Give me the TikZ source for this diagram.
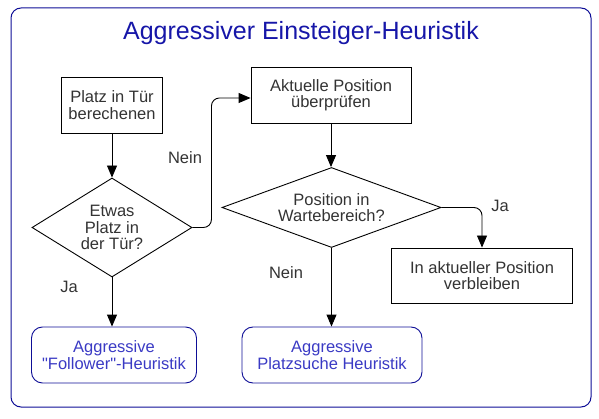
\documentclass[tikz,border=0pt]{standalone}
\usepackage{fontspec}
\setmainfont{Liberation Sans}[Ligatures=TeXOff]
\usetikzlibrary{shapes.geometric,arrows.meta}
\definecolor{frameblue}{HTML}{0E0E96}
\definecolor{titleblue}{HTML}{1616A8}
\definecolor{boxblue}{HTML}{3A3AC4}
\definecolor{txt}{HTML}{333333}
\tikzset{
  base/.style={font=\fontsize{16.5}{16.5}\selectfont, text=txt, align=center},
  procbox/.style={base, draw=black, line width=0.9pt, inner sep=0pt},
  endbox/.style={base, draw=frameblue, line width=0.9pt, rounded corners=11pt, inner sep=0pt, text=boxblue},
  decide/.style={base, draw=black, line width=0.9pt, diamond, inner sep=0pt},
  conn/.style={draw=black, line width=0.9pt, -{Triangle[length=12pt,width=10pt]}},
  lbl/.style={base},
}
\begin{document}
\begin{tikzpicture}[x=1pt,y=-1pt]
\useasboundingbox (0,0) rectangle (599,419);
\node[draw=frameblue, line width=1pt, rounded corners=10pt, minimum width=580pt, minimum height=399pt, inner sep=0pt] (frame) at (301,207.5) {};
\node[font=\fontsize{25}{27}\selectfont, text=titleblue] (title) at (301,33) {Aggressiver Einsteiger-Heuristik};

\node[procbox, minimum width=101pt, minimum height=56pt] (b1) at (112,105) {Platz in Tür\\berechenen};
\node[decide, minimum width=160pt, minimum height=99pt, aspect=1.6] (d1) at (112,227.5) {Etwas\\Platz in\\der Tür?};
\node[procbox, minimum width=160pt, minimum height=56pt] (b2) at (331,95) {Aktuelle Position\\überprüfen};
\node[decide, minimum width=219pt, minimum height=80pt, aspect=2.74] (d2) at (331.5,207.5) {Position in\\Wartebereich?};
\node[procbox, minimum width=181pt, minimum height=55pt] (b3) at (482,275.5) {In aktueller Position\\verbleiben};
\node[endbox, minimum width=165pt, minimum height=56pt] (b5) at (114,355) {Aggressive\\"Follower"-Heuristik};
\node[endbox, minimum width=180pt, minimum height=56pt] (b4) at (332,355) {Aggressive\\Platzsuche Heuristik};

\draw[conn] (b1.south) -- (d1.north);
\draw[conn] (d1.south) -- (d1.south |- b5.north);
\draw[conn, rounded corners=8pt] (d1.east) -- ++(19,0) |- ([yshift=-3pt]b2.west);
\draw[conn] (b2.south) -- (b2.south |- d2.north);
\draw[conn, rounded corners=8pt] (d2.east) -| (b3.north);
\draw[conn] (d2.south) -- (d2.south |- b4.north);

\node[lbl] (l1) at (185,158) {Nein};
\node[lbl] (l2) at (69,287) {Ja};
\node[lbl] (l3) at (500,206) {Ja};
\node[lbl] (l4) at (286,273) {Nein};
\end{tikzpicture}
\end{document}
